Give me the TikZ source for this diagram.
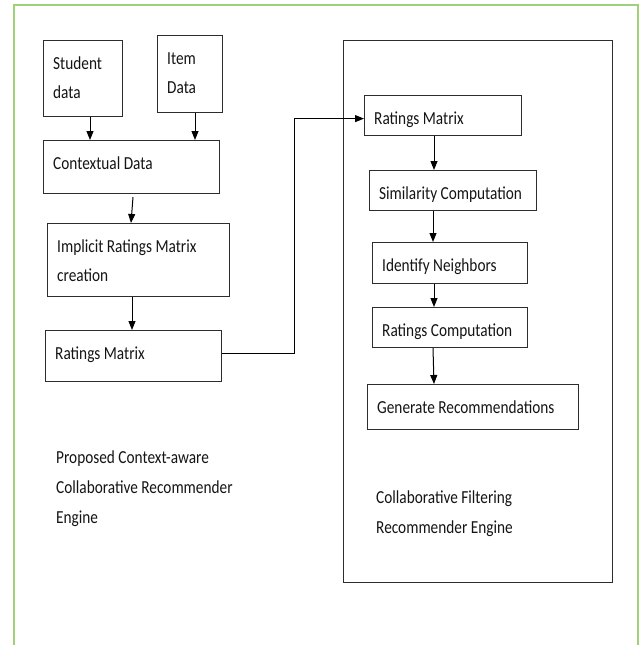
\documentclass[tikz,border=0pt]{standalone}
\usepackage{fontspec}
\usepackage{graphicx}
\setmainfont{Carlito}
\usetikzlibrary{arrows.meta}
\definecolor{framegreen}{RGB}{160,208,120}
\definecolor{boxline}{RGB}{45,45,45}
\definecolor{txtcol}{RGB}{20,20,20}
\newcommand{\stxt}[1]{\scalebox{1}[1.2]{\begin{tabular}{@{}l@{}}#1\end{tabular}}}
\tikzset{
  box/.style={draw=boxline, line width=1.2pt, rectangle, anchor=north west, inner sep=0pt},
  txt/.style={anchor=north west, align=left, inner xsep=10pt, inner ysep=8.5pt, text=txtcol,
              font=\fontsize{15.3}{24.6}\selectfont},
  freetxt/.style={anchor=north west, align=left, inner sep=0pt, text=txtcol,
              font=\fontsize{15.3}{25}\selectfont},
  arr/.style={draw=black, line width=1pt, -{Triangle[length=9pt,width=7pt]}}
}
\begin{document}
\begin{tikzpicture}[x=1pt,y=-1pt]
\useasboundingbox (0,0) rectangle (642,645);
% outer frame
\draw[framegreen, line width=2pt] (14,645) -- (14,5) -- (638,5) -- (638,645);
% left column
\node[box, minimum width=79pt, minimum height=76pt, label={[txt]north west:\stxt{Student\\data}}] (student) at (43,40) {};
\node[box, minimum width=65pt, minimum height=77pt, label={[txt]north west:\stxt{Item\\Data}}] (item) at (157,35) {};
\node[box, minimum width=176pt, minimum height=53pt, label={[txt]north west:\stxt{Contextual Data}}] (ctx) at (43,140) {};
\node[box, minimum width=182pt, minimum height=73pt, label={[txt]north west:\stxt{Implicit Ratings Matrix\\creation}}] (impl) at (47,223) {};
\node[box, minimum width=176pt, minimum height=51pt, label={[txt]north west:\stxt{Ratings Matrix}}] (rma) at (45,330) {};
\node[freetxt] (proposed) at (56,442) {\stxt{Proposed Context-aware\\Collaborative Recommender\\Engine}};
% right engine
\node[box, minimum width=269pt, minimum height=542pt] (cf) at (343,40) {};
\node[box, minimum width=157pt, minimum height=40pt, label={[txt]north west:\stxt{Ratings Matrix}}] (rmb) at (364,95) {};
\node[box, minimum width=167pt, minimum height=40pt, label={[txt]north west:\stxt{Similarity Computation}}] (sim) at (369,170) {};
\node[box, minimum width=155pt, minimum height=41pt, label={[txt]north west:\stxt{Identify Neighbors}}] (idn) at (372,242) {};
\node[box, minimum width=155pt, minimum height=40pt, label={[txt]north west:\stxt{Ratings Computation}}] (rc) at (372,307) {};
\node[box, minimum width=211pt, minimum height=45pt, label={[txt]north west:\stxt{Generate Recommendations}}] (gen) at (367,384) {};
\node[freetxt] (cftext) at (376,482) {\stxt{Collaborative Filtering\\Recommender Engine}};
% connectors
\draw[arr] ([xshift=47pt]student.south west) -- ([xshift=47pt]ctx.north west);
\draw[arr] ([xshift=38pt]item.south west) -- ([xshift=152pt]ctx.north west);
\draw[arr] ([xshift=90pt,yshift=-3pt]ctx.south west) -- ([xshift=84pt]impl.north west);
\draw[arr] ([xshift=85pt]impl.south west) -- ([xshift=87pt]rma.north west);
\draw[arr] ([yshift=3pt]rma.east) -- ++(72,0) |- ([yshift=-3pt]rmb.west);
\draw[arr] ([xshift=70pt]rmb.south west) -- ([xshift=65pt]sim.north west);
\draw[arr] ([xshift=64pt]sim.south west) -- ([xshift=61pt]idn.north west);
\draw[arr] ([xshift=62pt]idn.south west) -- ([xshift=62pt]rc.north west);
\draw[arr] ([xshift=61pt]rc.south west) -- ([xshift=67pt]gen.north west);
\end{tikzpicture}
\end{document}
